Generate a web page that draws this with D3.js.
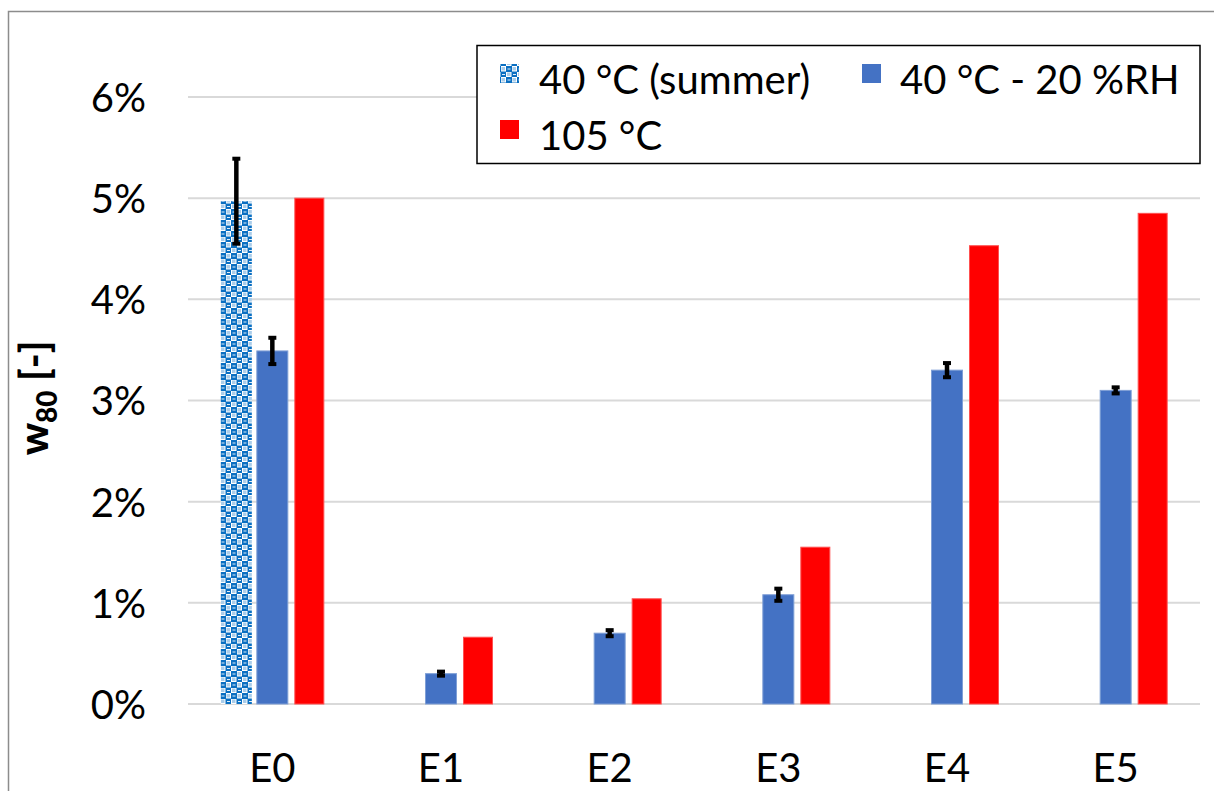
<!DOCTYPE html>
<html>
<head>
<meta charset="utf-8">
<script src="https://cdn.jsdelivr.net/npm/d3@7"></script>
<style>
    body { margin: 0; background: #fff; }
    svg text { font-family: Lato, "Open Sans", sans-serif; fill: #000; }
</style>
</head>
<body>
<svg id="chart" width="1214" height="791"></svg>
<script>
// Chart data
const categories = ["E0", "E1", "E2", "E3", "E4", "E5"];
const summerValues = [4.97, null, null, null, null, null];
const summerErrors = [0.42, null, null, null, null, null];
const rhValues = [3.49, 0.30, 0.70, 1.08, 3.30, 3.10];
const rhErrors = [0.13, 0.02, 0.03, 0.06, 0.07, 0.03];
const hotValues = [5.00, 0.66, 1.04, 1.55, 4.53, 4.85];
const yTicks = [0, 1, 2, 3, 4, 5, 6];
const seriesNames = ["40 °C (summer)", "40 °C - 20 %RH", "105 °C"];

const svg = d3.select("#chart");

// checker pattern for the summer series
const defs = svg.append("defs");
const pat = defs.append("pattern")
    .attr("id", "checker")
    .attr("width", 11).attr("height", 11)
    .attr("patternUnits", "userSpaceOnUse");
pat.append("rect").attr("width", 11).attr("height", 11).attr("fill", "#fff");
[[0, 0], [5.5, 5.5]].forEach(function(p) {
    pat.append("rect").attr("x", p[0]).attr("y", p[1]).attr("width", 6).attr("height", 6).attr("fill", "#0a6fc2");
    pat.append("rect").attr("x", p[0] + 1.5).attr("y", p[1] + 2.5).attr("width", 3).attr("height", 1).attr("fill", "#e3eef8");
});
[[5.5, 0], [0, 5.5]].forEach(function(p) {
    pat.append("rect").attr("x", p[0] + 1).attr("y", p[1] + 1).attr("width", 3.5).attr("height", 3.5).attr("fill", "#0a6fc2").attr("opacity", 0.35);
});

// outer frame
svg.append("rect")
    .attr("x", 8.5).attr("y", 11.5)
    .attr("width", 1214).attr("height", 800)
    .attr("fill", "none").attr("stroke", "#8c8c8c").attr("stroke-width", 1.5);

const x = d3.scaleBand().domain(categories).range([188, 1200]);
const y = d3.scaleLinear().domain([0, 6]).range([704, 97]);

// gridlines
svg.append("g")
    .selectAll("line")
    .data(yTicks)
    .enter()
    .append("line")
    .attr("x1", 188).attr("x2", 1200)
    .attr("y1", d => y(d)).attr("y2", d => y(d))
    .attr("stroke", "#d9d9d9").attr("stroke-width", 2);

// y axis labels
const yAxis = d3.axisLeft(y).tickValues(yTicks).tickFormat(d => d + "%").tickSize(0).tickPadding(0);
const gy = svg.append("g").attr("transform", "translate(146,0)").call(yAxis);
gy.select(".domain").remove();
gy.selectAll("text").style("font-size", "40px").style("font-family", "Lato, sans-serif").attr("dy", "0.36em");

// x axis labels
const xAxis = d3.axisBottom(x).tickSize(0).tickPadding(0);
const gx = svg.append("g").attr("transform", "translate(0,782)").call(xAxis);
gx.select(".domain").remove();
gx.selectAll("text").style("font-size", "40px").style("font-family", "Lato, sans-serif").attr("y", 0).attr("dy", 0);

// axis title
const title = svg.append("text")
    .attr("transform", "translate(48,398) rotate(-90)")
    .attr("text-anchor", "middle")
    .style("font-size", "40px").style("font-weight", "900");
title.append("tspan").text("w");
title.append("tspan").text("80").attr("dy", 9).style("font-size", "28px");
title.append("tspan").text(" [-]").attr("dy", -9);

const cx = d => x(d) + x.bandwidth() / 2;
const bars = [
    { vals: summerValues, errs: summerErrors, off: -36, w: 31, fill: "url(#checker)", stroke: "none" },
    { vals: rhValues, errs: rhErrors, off: 0, w: 31, fill: "#4472c4", stroke: "#7f9fd6" },
    { vals: hotValues, errs: null, off: 37, w: 29, fill: "#ff0000", stroke: "#ff5050" }
];

bars.forEach(function(s) {
    const data = categories.map((c, i) => ({ c: c, v: s.vals[i], e: s.errs ? s.errs[i] : null }))
        .filter(d => d.v !== null);
    svg.append("g")
        .selectAll("rect")
        .data(data)
        .enter()
        .append("rect")
        .attr("x", d => cx(d.c) + s.off - s.w / 2)
        .attr("y", d => y(d.v))
        .attr("width", s.w)
        .attr("height", d => y(0) - y(d.v))
        .attr("fill", s.fill)
        .attr("stroke", s.stroke).attr("stroke-width", 1);

    // error bars
    const err = svg.append("g").selectAll("g")
        .data(data.filter(d => d.e !== null))
        .enter().append("g");
    err.append("line")
        .attr("x1", d => cx(d.c) + s.off).attr("x2", d => cx(d.c) + s.off)
        .attr("y1", d => y(d.v + d.e)).attr("y2", d => y(d.v - d.e))
        .attr("stroke", "#000").attr("stroke-width", 4.5);
    [1, -1].forEach(function(sign) {
        err.append("line")
            .attr("x1", d => cx(d.c) + s.off - 4).attr("x2", d => cx(d.c) + s.off + 4)
            .attr("y1", d => y(d.v + sign * d.e)).attr("y2", d => y(d.v + sign * d.e))
            .attr("stroke", "#000").attr("stroke-width", 4);
    });
});

// legend
const legend = svg.append("g");
legend.append("rect")
    .attr("x", 477).attr("y", 45.5).attr("width", 723).attr("height", 118)
    .attr("fill", "#fff").attr("stroke", "#000").attr("stroke-width", 1.5);
const legendItems = [
    { name: seriesNames[0], fill: "url(#checker)", sx: 500, tx: 539, ty: 94 },
    { name: seriesNames[1], fill: "#4472c4", sx: 862, tx: 900, ty: 94 },
    { name: seriesNames[2], fill: "#ff0000", sx: 500, tx: 539, ty: 150 }
];
legend.selectAll("rect.sw")
    .data(legendItems)
    .enter()
    .append("rect")
    .attr("class", "sw")
    .attr("x", d => d.sx).attr("y", d => d.ty - 30)
    .attr("width", 19).attr("height", 19)
    .attr("fill", d => d.fill);
legend.selectAll("text")
    .data(legendItems)
    .enter()
    .append("text")
    .attr("x", d => d.tx).attr("y", d => d.ty)
    .style("font-size", "40px")
    .text(d => d.name);
</script>
</body>
</html>
